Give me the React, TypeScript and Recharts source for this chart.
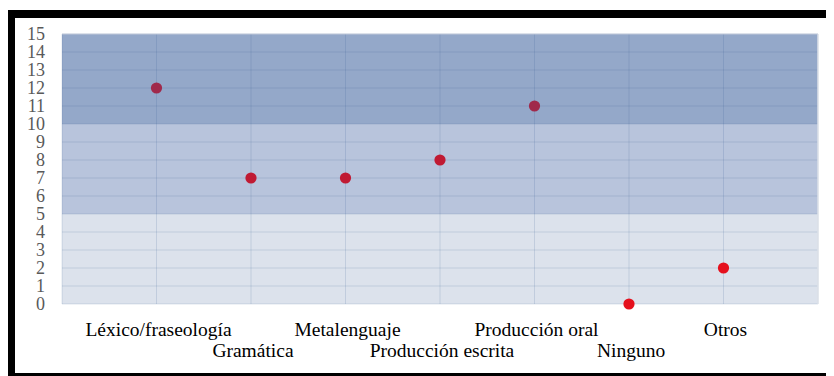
import React from "react";
import { ScatterChart, Scatter, XAxis, YAxis, CartesianGrid, ReferenceLine } from "recharts";

// Survey categories and number of answers per category
const categories = [
  "Léxico/fraseología",
  "Gramática",
  "Metalenguaje",
  "Producción escrita",
  "Producción oral",
  "Ninguno",
  "Otros",
];
const answers = [12, 7, 7, 8, 11, 0, 2];
const yTicks = [0, 1, 2, 3, 4, 5, 6, 7, 8, 9, 10, 11, 12, 13, 14, 15];
const xPositions = [1, 2, 3, 4, 5, 6, 7];

const data = categories.map((name, i) => ({ x: xPositions[i], y: answers[i], name }));

const FONT = "Liberation Serif, Times New Roman, DejaVu Serif, serif";

// Stripe fills from top to bottom: 15→10 dark, 10→5 medium, 5→0 light
const stripeFills = [
  ...Array(5).fill("#94a8c9"),
  ...Array(5).fill("#b8c4dc"),
  ...Array(5).fill("#dce2ec"),
];

const dotColor = (v: number) => (v >= 10 ? "#a0294b" : v >= 5 ? "#c01a33" : "#e5101d");

const Dot = (props: any) => {
  const { cx, cy, payload } = props;
  return <circle cx={cx} cy={cy} r={5.6} fill={dotColor(payload.y)} />;
};

const CategoryTick = (props: any) => {
  const { x, y, payload } = props;
  const idx = xPositions.indexOf(payload.value);
  if (idx < 0) return null;
  const dy = idx % 2 === 0 ? 30 : 51;
  return (
    <text
      x={x + 2}
      y={y + dy}
      textAnchor="middle"
      style={{ fontFamily: FONT, fontSize: 19.5, fill: "#000" }}
    >
      {categories[idx]}
    </text>
  );
};

const ValueTick = (props: any) => {
  const { x, y, payload } = props;
  return (
    <text
      x={x}
      y={y + 6}
      textAnchor="end"
      style={{ fontFamily: FONT, fontSize: 18, fill: "#595959" }}
    >
      {payload.value}
    </text>
  );
};

export default function App() {
  return (
    <div style={{ position: "relative", width: 826, height: 368, background: "#fff", fontFamily: FONT }}>
      <div style={{ position: "absolute", left: 0, top: 2, width: 826, height: 8, background: "#000" }} />
      <div style={{ position: "absolute", left: 0, top: 2, width: 7, height: 368, background: "#000" }} />
      <div style={{ position: "absolute", left: 0, top: 365, width: 826, height: 8, background: "#000" }} />
      <div style={{ position: "absolute", left: 0, top: 0 }}>
        <ScatterChart
          width={826}
          height={368}
          margin={{ top: 26, right: 16, bottom: 0, left: 0 }}
          style={{ fontFamily: FONT }}
        >
          <CartesianGrid
            stroke="#2a5090"
            strokeOpacity={0.15}
            horizontalFill={stripeFills}
            fillOpacity={1}
          />
          <XAxis
            type="number"
            dataKey="x"
            domain={[0, 8]}
            ticks={xPositions}
            interval={0}
            axisLine={false}
            tickLine={false}
            tickSize={0}
            height={72}
            tick={<CategoryTick />}
          />
          <YAxis
            type="number"
            dataKey="y"
            domain={[0, 15]}
            ticks={yTicks}
            interval={0}
            axisLine={false}
            tickLine={false}
            tickSize={0}
            tickMargin={17}
            width={54}
            tick={<ValueTick />}
          />
          <ReferenceLine x={8} stroke="#dfe3ea" strokeWidth={1.5} />
          <ReferenceLine y={15} stroke="#c8d0de" strokeWidth={1} />
          <Scatter data={data} shape={<Dot />} isAnimationActive={false} />
        </ScatterChart>
      </div>
    </div>
  );
}
